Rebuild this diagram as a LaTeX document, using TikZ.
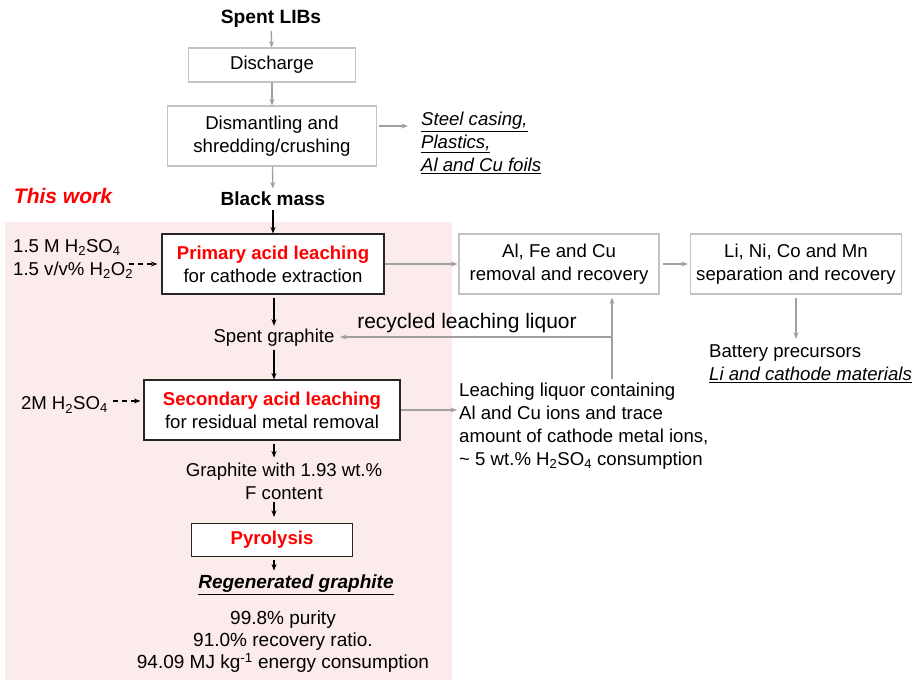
\documentclass[tikz,border=0pt]{standalone}
\usepackage{fontspec}
\setmainfont{Liberation Sans}
\usepackage{xcolor}
\definecolor{bg}{RGB}{252, 235, 235}
\definecolor{lg}{RGB}{195, 195, 195}
\definecolor{ag}{RGB}{160, 160, 160}
\definecolor{rd}{RGB}{255, 0, 0}
\usetikzlibrary{arrows.meta}

\begin{document}
\begin{tikzpicture}[x=1pt, y=-1pt,
    every node/.style={font=\fontsize{18.6}{23}\selectfont, align=center},
    graybox/.style={draw=lg, line width=1.1pt, inner sep=2pt},
    blackbox/.style={draw=black!85, line width=1.1pt, fill=white, inner sep=2pt},
    grayarrow/.style={draw=ag, line width=1.3pt, -{Stealth[length=6.5pt,width=5pt]}},
    blackarrow/.style={draw=black, line width=1.3pt, -{Stealth[length=6.5pt,width=5pt]}},
    dasharrow/.style={draw=black, line width=1.3pt, dash pattern=on 5pt off 4pt, -{Stealth[length=6.5pt,width=5pt]}}]
        \useasboundingbox (0,0) rectangle (916,680);

        % Shaded region for this work
        \fill[bg] (5,222) rectangle (452,680);
        \node[text=rd, font=\fontsize{21}{23}\selectfont\bfseries\itshape] (thiswork) at (63,196) {This work};

        % Pretreatment
        \node[font=\fontsize{19.2}{23}\selectfont\bfseries] (spent) at (271,19) {Spent LIBs};
        \node[graybox, minimum width=167pt, minimum height=34pt] (dis) at (272,65) {Discharge};
        \node[graybox, minimum width=209pt, minimum height=60pt] (dism) at (272,136) {Dismantling and\\shredding/crushing};
        \node[anchor=west, align=left, inner sep=0pt] (steel) at (421,143) {\underline{\textit{Steel casing,}}\\\underline{\textit{Plastics,}}\\\underline{\textit{Al and Cu foils}}};
        \coordinate (steelin) at (408,126);
        \node[font=\fontsize{19}{23}\selectfont\bfseries] (bm) at (273,199) {Black mass};

        \draw[grayarrow] (spent) -- (dis);
        \draw[grayarrow] (dis) -- (dism);
        \draw[grayarrow] ([xshift=2pt,yshift=10pt]dism.east) -- (steelin);
        \draw[grayarrow] (dism) -- (bm);

        % Primary leaching and downstream recovery
        \node[blackbox, minimum width=222pt, minimum height=60pt] (prim) at (273,264) {{\color{rd}\bfseries Primary acid leaching}\\for cathode extraction};
        \node[anchor=west, align=left, inner sep=0pt] (reag1) at (13,259) {1.5 M H\textsubscript{2}SO\textsubscript{4}\\1.5 v/v\% H\textsubscript{2}O\textsubscript{2}};
        \coordinate (reagout) at (129,264);
        \node[graybox, minimum width=200pt, minimum height=60pt] (alfe) at (559,264) {Al, Fe and Cu\\removal and recovery};
        \node[graybox, minimum width=211pt, minimum height=60pt] (lini) at (796,264) {Li, Ni, Co and Mn\\separation and recovery};
        \node[anchor=west, align=left, inner sep=0pt] (batt) at (709,364) {Battery precursors\\\underline{\textit{Li and cathode materials}}};

        \draw[blackarrow] (bm) -- (prim);
        \draw[dasharrow] (reagout) -- ([xshift=-4pt]reagout -| prim.west);
        \draw[grayarrow] (prim.east) -- ([xshift=-1pt]alfe.west);
        \draw[grayarrow] ([xshift=3pt]alfe.east) -- ([xshift=-2pt]lini.west);
        \draw[grayarrow] ([yshift=-3pt]lini.south) -- ([yshift=6pt]lini.south |- batt.north);

        % Spent graphite and recycled liquor
        \node (sg) at (274,338) {Spent graphite};
        \coordinate (junc) at (612,337);
        \node[font=\fontsize{21}{23}\selectfont] (recyc) at (467,323) {recycled leaching liquor};

        \draw[blackarrow] ([yshift=-3pt]prim.south -| sg.north) -- (sg.north);

        % Secondary leaching
        \node[blackbox, minimum width=256pt, minimum height=60pt] (sec) at (272,410) {{\color{rd}\bfseries Secondary acid leaching}\\for residual metal removal};
        \node[anchor=east, inner sep=0pt] (acid2) at (108,405) {2M H\textsubscript{2}SO\textsubscript{4}};
        \node[anchor=west, align=left, inner sep=0pt] (liq) at (459,426) {Leaching liquor containing\\Al and Cu ions and trace\\amount of cathode metal ions,\\\textasciitilde\ 5 wt.\% H\textsubscript{2}SO\textsubscript{4} consumption};

        \draw[blackarrow] (sg.south) -- (sg.south |- sec.north);
        \draw[dasharrow] ([xshift=5pt,yshift=4pt]acid2.east) -- ([xshift=-3pt,yshift=4pt]acid2.east -| sec.west);
        \draw[grayarrow] (sec.east) -- ([xshift=-2pt]sec.east -| liq.west);
        \draw[draw=ag, line width=1.3pt] ([yshift=4pt]liq.north -| junc) -- (junc);
        \draw[grayarrow] (junc) -- ([yshift=-3pt]alfe.south -| junc);
        \draw[grayarrow] (junc) -- ([xshift=2pt]sg.east |- junc);

        % Pyrolysis and product
        \node[inner sep=1pt] (gw) at (284,481) {Graphite with 1.93 wt.\%\\F content};
        \node[blackbox, minimum width=161pt, minimum height=33pt] (pyro) at (272,540) {{\color{rd}\bfseries Pyrolysis}};
        \node[font=\fontsize{19}{23}\selectfont\bfseries\itshape] (regen) at (296,585) {\underline{Regenerated graphite}};
        \node[font=\fontsize{19}{22}\selectfont] (stats) at (283,642) {99.8\% purity\\91.0\% recovery ratio.\\94.09 MJ kg\textsuperscript{-1} energy consumption};

        \draw[blackarrow] ([xshift=2pt,yshift=-3pt]sec.south) -- ++(0,14);
        \draw[blackarrow] ([xshift=2pt,yshift=-1pt]pyro.north |- gw.south) -- ([xshift=2pt,yshift=6pt]pyro.north);
        \draw[blackarrow] ([xshift=2pt,yshift=-3pt]pyro.south) -- ([xshift=2pt,yshift=1pt]pyro.south |- regen.north);
    \end{tikzpicture}
\end{document}
